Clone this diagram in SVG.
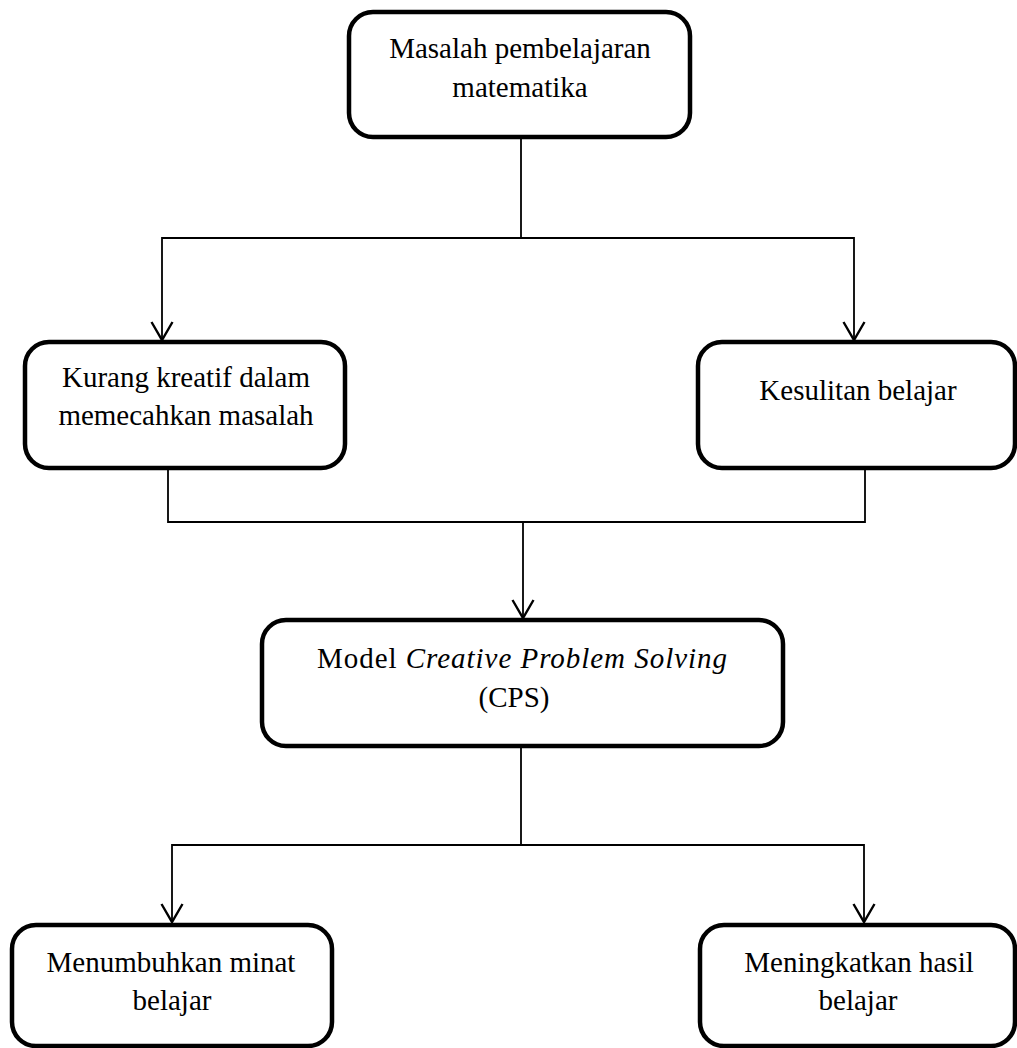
<svg xmlns="http://www.w3.org/2000/svg" width="1017" height="1048" viewBox="0 0 1017 1048">
  <defs>
    <marker id="arr" markerUnits="userSpaceOnUse" markerWidth="26" markerHeight="26" viewBox="-21 -13 26 26" refX="0" refY="0" orient="auto">
      <path d="M-18,-10.5 L0,0 L-18,10.5" fill="none" stroke="#000" stroke-width="2.4"/>
    </marker>
    <style>
      .box { fill: #fff; stroke: #000; stroke-width: 4.5; }
      .conn { fill: none; stroke: #000; stroke-width: 1.8; }
      text { font-family: "Liberation Serif", "Times New Roman", serif; font-size: 29px; fill: #000; text-anchor: middle; }
      .it { font-style: italic; }
    </style>
  </defs>
  <rect width="1017" height="1048" fill="#fff"/>
  <g id="connectors">
    <path class="conn" d="M521,137 V238"/>
    <path class="conn" d="M521,238 H162 V340" marker-end="url(#arr)"/>
    <path class="conn" d="M521,238 H854 V340" marker-end="url(#arr)"/>
    <path class="conn" d="M168,468 V522 H865 V468"/>
    <path class="conn" d="M523,522 V618" marker-end="url(#arr)"/>
    <path class="conn" d="M521,746 V845"/>
    <path class="conn" d="M521,845 H172 V922" marker-end="url(#arr)"/>
    <path class="conn" d="M521,845 H864 V922" marker-end="url(#arr)"/>
  </g>
  <g id="node-masalah">
    <rect class="box" x="349" y="12" width="341" height="125" rx="24"/>
    <text x="520" y="58">Masalah pembelajaran</text>
    <text x="520" y="97">matematika</text>
  </g>
  <g id="node-kurang-kreatif">
    <rect class="box" x="25" y="342" width="320" height="126" rx="24"/>
    <text x="186" y="387">Kurang kreatif dalam</text>
    <text x="186" y="425">memecahkan masalah</text>
  </g>
  <g id="node-kesulitan">
    <rect class="box" x="698" y="342" width="317" height="126" rx="24"/>
    <text x="858" y="400">Kesulitan belajar</text>
  </g>
  <g id="node-cps">
    <rect class="box" x="262" y="620" width="521" height="126" rx="24"/>
    <text x="522" y="668" textLength="410" lengthAdjust="spacing">Model <tspan class="it">Creative Problem Solving</tspan></text>
    <text x="514" y="707">(CPS)</text>
  </g>
  <g id="node-minat">
    <rect class="box" x="12" y="925" width="320" height="121" rx="24"/>
    <text x="171" y="972">Menumbuhkan minat</text>
    <text x="172" y="1010">belajar</text>
  </g>
  <g id="node-hasil">
    <rect class="box" x="700" y="925" width="315" height="121" rx="24"/>
    <text x="859" y="972">Meningkatkan hasil</text>
    <text x="858" y="1010">belajar</text>
  </g>
</svg>
